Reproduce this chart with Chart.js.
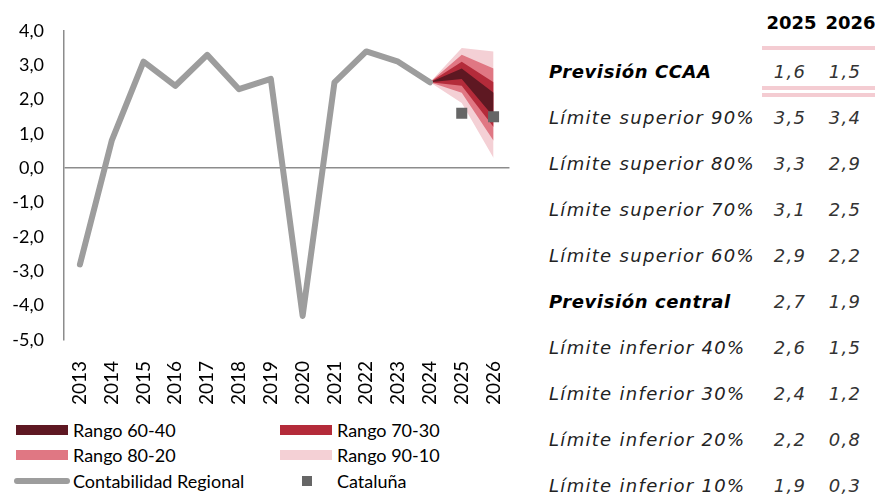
<!DOCTYPE html>
<html lang="es">
<head>
  <meta charset="UTF-8">
  <title>Previsión PIB Cataluña</title>
  <style>
    body {
      margin: 0;
      width: 875px;
      height: 502px;
      background: #fff;
      position: relative;
      overflow: hidden;
    }

    #chart {
      position: absolute;
      left: 0;
      top: 0;
    }

    .legend {
      position: absolute;
      font-family: Lato, sans-serif;
      font-size: 18px;
      color: #000;
    }

    .legend .item {
      position: absolute;
      white-space: nowrap;
      height: 20px;
      line-height: 20px;
    }

    .legend .sw {
      position: absolute;
      top: 5px;
      width: 52px;
      height: 10px;
    }

    .legend .txt {
      position: absolute;
      left: 57px;
      top: 0;
    }

    .tabla {
      position: absolute;
      font-family: 'DejaVu Sans', sans-serif;
      font-size: 18px;
      letter-spacing: 1.3px;
      color: #222;
    }

    .tabla div {
      position: absolute;
      white-space: nowrap;
    }

    .tabla .lab { left: 549px; font-style: italic; }
    .tabla .strong { font-weight: bold; color: #000; letter-spacing: 0.6px; }
    .tabla .val { width: 50px; text-align: center; font-style: italic; color: #333; }
    .tabla .head { width: 55px; text-align: center; font-weight: bold; color: #000; letter-spacing: 0; }
    .tabla .rule { left: 762px; width: 113px; height: 4px; background: #f4ccd2; }
  </style>
  <script src="https://cdn.jsdelivr.net/npm/chart.js"></script>
</head>
<body>

  <canvas id="chart" width="530" height="410"></canvas>
  <div class="legend" id="legend"></div>
  <div class="tabla" id="tabla"></div>

  <script>
    // datos
    const years = ['2013', '2014', '2015', '2016', '2017', '2018', '2019', '2020', '2021', '2022', '2023', '2024', '2025', '2026'];
    const contabilidad = [-2.8, 0.8, 3.1, 2.4, 3.3, 2.3, 2.6, -4.3, 2.5, 3.4, 3.1, 2.5, null, null];
    const cataluna = [null, null, null, null, null, null, null, null, null, null, null, null, 1.6, 1.5];
    const fanStart = 2.5;  // ultimo dato observado 2024

    const tableYears = ['2025', '2026'];
    const prevCCAA = [1.6, 1.5];
    const limLabels = ['Límite superior 90%', 'Límite superior 80%', 'Límite superior 70%', 'Límite superior 60%',
      'Previsión central', 'Límite inferior 40%', 'Límite inferior 30%', 'Límite inferior 20%', 'Límite inferior 10%'];
    const lim2025 = [3.5, 3.3, 3.1, 2.9, 2.7, 2.6, 2.4, 2.2, 1.9];
    const lim2026 = [3.4, 2.9, 2.5, 2.2, 1.9, 1.5, 1.2, 0.8, 0.3];

    const yTicks = [4, 3, 2, 1, 0, -1, -2, -3, -4, -5];

    // bandas: [indice superior, indice inferior, etiqueta, color]
    const bands = [
      [3, 5, 'Rango 60-40', '#5e1822'],
      [2, 6, 'Rango 70-30', '#b42b3a'],
      [1, 7, 'Rango 80-20', '#e07783'],
      [0, 8, 'Rango 90-10', '#f4d0d5']
    ];

    const fmt = v => v.toFixed(1).replace('.', ',');

    function fanSeries(i) {
      const s = years.map(() => null);
      s[11] = fanStart;
      s[12] = lim2025[i];
      s[13] = lim2026[i];
      return s;
    }

    const datasets = [
      {
        label: 'Cataluña',
        data: cataluna,
        showLine: false,
        pointStyle: 'rect',
        pointRadius: 7.8,
        pointBackgroundColor: '#666666',
        pointBorderWidth: 0,
        pointBorderColor: '#666666',
        order: 0
      },
      {
        label: 'Contabilidad Regional',
        data: contabilidad,
        borderColor: '#9d9d9d',
        borderWidth: 6,
        borderCapStyle: 'round',
        borderJoinStyle: 'round',
        pointRadius: 0,
        tension: 0,
        order: 1
      }
    ];

    bands.forEach((b, k) => {
      const upIdx = datasets.length;
      datasets.push({
        label: b[2],
        data: fanSeries(b[0]),
        borderColor: 'rgba(0,0,0,0)',
        borderWidth: 0,
        backgroundColor: b[3],
        pointRadius: 0,
        fill: upIdx + 1,
        order: 2 + k
      });
      datasets.push({
        label: b[2] + ' inf',
        data: fanSeries(b[1]),
        borderColor: 'rgba(0,0,0,0)',
        borderWidth: 0,
        pointRadius: 0,
        fill: false,
        order: 2 + k
      });
    });

    const chart = new Chart(document.getElementById('chart'), {
      type: 'line',
      data: { labels: years, datasets: datasets },
      options: {
        responsive: false,
        animation: false,
        layout: { padding: { top: 29, right: 18, left: 0, bottom: 0 } },
        plugins: {
          legend: { display: false },
          tooltip: { enabled: false }
        },
        scales: {
          x: {
            offset: true,
            grid: { display: false },
            border: { display: false },
            ticks: {
              minRotation: 90,
              maxRotation: 90,
              padding: 13,
              color: '#000',
              font: { family: 'Lato', size: 19 }
            },
            afterFit: s => { s.height = 70; }
          },
          y: {
            min: -5,
            max: 4,
            afterBuildTicks: s => { s.ticks = yTicks.map(v => ({ value: v })); },
            grid: {
              drawTicks: false,
              color: c => c.tick && c.tick.value === 0 ? '#8c8c8c' : 'rgba(0,0,0,0)',
              lineWidth: 1.5
            },
            border: { display: true, color: '#8c8c8c', width: 1.5 },
            ticks: {
              padding: 20,
              color: '#000',
              font: { family: 'Lato', size: 18 },
              callback: v => fmt(v)
            },
            afterFit: s => { s.width = 64; }
          }
        }
      }
    });

    // leyenda
    const legendItems = [
      { text: 'Rango 60-40', color: bands[0][3], x: 16, y: 420 },
      { text: 'Rango 70-30', color: bands[1][3], x: 280, y: 420 },
      { text: 'Rango 80-20', color: bands[2][3], x: 16, y: 445 },
      { text: 'Rango 90-10', color: bands[3][3], x: 280, y: 445 },
      { text: 'Contabilidad Regional', color: '#9d9d9d', x: 16, y: 471, line: true },
      { text: 'Cataluña', color: '#666666', x: 280, y: 471, square: true }
    ];
    const legend = document.getElementById('legend');
    legendItems.forEach(it => {
      const d = document.createElement('div');
      d.className = 'item';
      d.style.left = it.x + 'px';
      d.style.top = it.y + 'px';
      const sw = document.createElement('div');
      sw.className = 'sw';
      sw.style.background = it.color;
      if (it.line) {
        sw.style.left = '-2px';
        sw.style.top = '7px';
        sw.style.height = '6px';
        sw.style.width = '56px';
        sw.style.borderRadius = '3px';
      }
      if (it.square) {
        sw.style.left = '22px';
        sw.style.top = '5px';
        sw.style.width = '10px';
        sw.style.height = '10px';
      }
      const t = document.createElement('span');
      t.className = 'txt';
      t.textContent = it.text;
      d.appendChild(sw);
      d.appendChild(t);
      legend.appendChild(d);
    });

    // tabla
    const tabla = document.getElementById('tabla');
    function cell(cls, text, left, top) {
      const d = document.createElement('div');
      d.className = cls;
      d.textContent = text;
      if (left !== null) d.style.left = left + 'px';
      d.style.top = top + 'px';
      tabla.appendChild(d);
    }
    const headX = [764, 823];
    const valX = [765, 820];
    tableYears.forEach((y, j) => cell('head', y, headX[j], 12));
    [46, 86, 93].forEach(t => cell('rule', '', null, t));
    cell('lab strong', 'Previsión CCAA', null, 61);
    prevCCAA.forEach((v, j) => cell('val', fmt(v), valX[j], 61));
    limLabels.forEach((l, i) => {
      const top = 107 + i * 46;
      cell(l.startsWith('Previsión') ? 'lab strong' : 'lab', l, null, top);
      cell('val', fmt(lim2025[i]), valX[0], top);
      cell('val', fmt(lim2026[i]), valX[1], top);
    });
  </script>

</body>
</html>
